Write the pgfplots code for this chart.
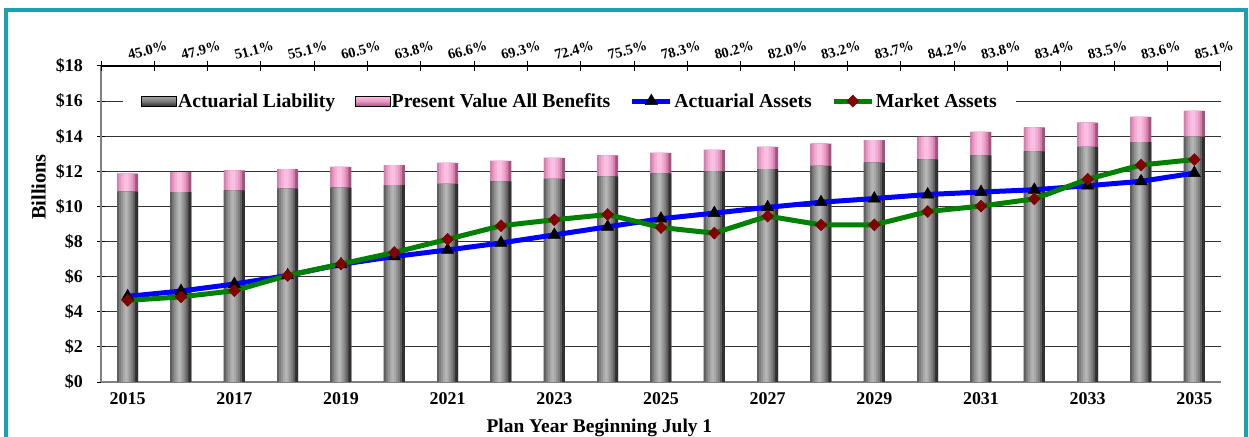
\documentclass[border=0pt]{standalone}
\usepackage{fontspec}
\setmainfont{Liberation Serif}
\usepackage{pgfplots}
\usepackage{pgfplotstable}
\pgfplotsset{compat=1.18}

\definecolor{frameteal}{RGB}{20,163,178}
\definecolor{gray1}{RGB}{48,48,48}
\definecolor{gray2}{RGB}{95,95,95}
\definecolor{gray3}{RGB}{125,125,125}
\definecolor{gray4}{RGB}{148,148,148}
\definecolor{gray5}{RGB}{166,166,166}
\definecolor{gray6}{RGB}{180,180,180}
\definecolor{pink1}{RGB}{165,85,125}
\definecolor{pink2}{RGB}{210,128,172}
\definecolor{pink3}{RGB}{232,152,196}
\definecolor{pink4}{RGB}{244,172,212}
\definecolor{pink5}{RGB}{250,192,226}
\definecolor{aablue}{RGB}{0,0,255}
\definecolor{magreen}{RGB}{0,128,0}
\definecolor{mared}{RGB}{128,0,0}

% one strip of a shaded bar: width, shift, colour
\pgfplotsset{strip/.style n args={3}{ybar, bar width=#1, bar shift=#2,
    draw=none, fill=#3, forget plot}}

% year index, liability, PV of all benefits, actuarial assets, market assets ($ billions)
\pgfplotstableread{
x  year al    pvab  aa    ma
0  2015 10.84 11.87 4.88  4.65
1  2016 10.81 11.96 5.18  4.85
2  2017 10.92 12.06 5.58  5.20
3  2018 11.02 12.13 6.07  6.07
4  2019 11.07 12.25 6.70  6.72
5  2020 11.21 12.36 7.15  7.38
6  2021 11.29 12.48 7.52  8.13
7  2022 11.43 12.60 7.92  8.90
8  2023 11.57 12.76 8.38  9.24
9  2024 11.71 12.91 8.84  9.54
10 2025 11.88 13.05 9.30  8.80
11 2026 12.00 13.22 9.62  8.48
12 2027 12.13 13.39 9.95  9.45
13 2028 12.31 13.58 10.24 8.95
14 2029 12.49 13.78 10.45 8.95
15 2030 12.68 13.96 10.68 9.71
16 2031 12.91 14.25 10.82 10.02
17 2032 13.13 14.50 10.95 10.43
18 2033 13.39 14.78 11.18 11.55
19 2034 13.67 15.10 11.43 12.36
20 2035 13.98 15.45 11.90 12.67
}\data

\begin{document}
\begin{tikzpicture}
\useasboundingbox (-101bp,-55bp) rectangle (1148bp,382bp);

\begin{axis}[
    scale only axis, width=1120bp, height=316bp,
    xmin=-0.5, xmax=20.5, ymin=0, ymax=18,
    axis x line*=bottom, axis y line*=left,
    axis line style={draw=black!50, line width=1.5bp},
    xtick={0,2,...,20},
    xticklabels={2015,2017,2019,2021,2023,2025,2027,2029,2031,2033,2035},
    x tick style={draw=none},
    ytick={0,2,...,18},
    yticklabels={\$0,\$2,\$4,\$6,\$8,\$10,\$12,\$14,\$16,\$18},
    y tick style={draw=black, line width=1bp},
    tick align=center, major tick length=8bp,
    ymajorgrids, grid style={black!80, line width=1.1bp},
    ticklabel style={font=\fontsize{18}{20}\selectfont\bfseries, inner sep=0pt},
    xticklabel style={yshift=-6bp},
    yticklabel style={xshift=-14bp},
    xlabel={Plan Year Beginning July 1},
    xlabel style={at={(ticklabel cs:0.445)}, anchor=north, yshift=-15bp,
        font=\fontsize{19.5}{21}\selectfont\bfseries, inner sep=0pt},
    ylabel={Billions},
    ylabel style={at={(ticklabel cs:0.617)}, anchor=south, yshift=10bp,
        font=\fontsize{20.5}{22}\selectfont\bfseries, inner sep=0pt},
    legend columns=4,
    legend cell align=left,
    legend style={at={(0.0196,0.889)}, anchor=west, draw=none, fill=white,
        inner xsep=18bp, inner ysep=2bp,
        font=\fontsize{19.8}{21}\selectfont\bfseries,
        nodes={inner sep=1.5bp},
        /tikz/every even column/.append style={column sep=18bp}},
    legend image code/.code={
        \draw[mark repeat=2, mark phase=2, #1]
            plot coordinates {(0bp,0bp) (19bp,0bp) (38bp,0bp)};},
]

% present value of all benefits (full bar, pink part shows above the liability)
\addplot[strip={21bp}{0bp}{pink1}]    table[x=x, y=pvab] {\data};
\addplot[strip={18bp}{-1.5bp}{pink2}] table[x=x, y=pvab] {\data};
\addplot[strip={14bp}{-1.5bp}{pink3}] table[x=x, y=pvab] {\data};
\addplot[strip={10bp}{-1.5bp}{pink4}] table[x=x, y=pvab] {\data};
\addplot[strip={5bp}{-1.5bp}{pink5}]  table[x=x, y=pvab] {\data};
% actuarial liability
\addplot[strip={21bp}{0bp}{gray1}]    table[x=x, y=al] {\data};
\addplot[strip={18bp}{-1.5bp}{gray2}] table[x=x, y=al] {\data};
\addplot[strip={14bp}{-1.5bp}{gray3}] table[x=x, y=al] {\data};
\addplot[strip={10bp}{-1.5bp}{gray4}] table[x=x, y=al] {\data};
\addplot[strip={6bp}{-1.5bp}{gray5}]  table[x=x, y=al] {\data};
\addplot[strip={3bp}{-1.5bp}{gray6}]  table[x=x, y=al] {\data};

\addlegendimage{legend image code/.code={
    \shade[top color=gray5, bottom color=gray1, middle color=gray3]
        (0bp,-5bp) rectangle (35bp,5bp);}}
\addlegendentry{Actuarial Liability}
\addlegendimage{legend image code/.code={
    \shade[top color=pink5, bottom color=pink1, middle color=pink3]
        (0bp,-5bp) rectangle (35bp,5bp);}}
\addlegendentry{Present Value All Benefits}

\addplot[aablue, line width=5bp, mark=triangle*, mark size=7bp,
    mark options={fill=black, draw=black, line width=0.5bp}]
    table[x=x, y=aa] {\data};
\addlegendentry{Actuarial Assets}
\addplot[magreen, line width=5bp, mark=diamond*, mark size=6bp,
    mark options={fill=mared, draw=mared, line width=0.5bp, xscale=1.3}]
    table[x=x, y=ma] {\data};
\addlegendentry{Market Assets}
\end{axis}

% top axis: funded ratio labels
\begin{axis}[
    scale only axis, width=1120bp, height=316bp,
    xmin=-0.5, xmax=20.5, ymin=0, ymax=18,
    axis x line*=top, axis y line=none,
    axis line style={black, line width=1.2bp},
    xtick={0,1,...,20},
    xticklabels={45.0\%,47.9\%,51.1\%,55.1\%,60.5\%,63.8\%,66.6\%,69.3\%,72.4\%,75.5\%,78.3\%,80.2\%,82.0\%,83.2\%,83.7\%,84.2\%,83.8\%,83.4\%,83.5\%,83.6\%,85.1\%},
    major tick length=0pt,
    minor xtick={-0.5,0.5,...,20.5},
    minor tick length=10bp, tick align=center,
    minor x tick style={black, line width=1bp},
    xticklabel style={rotate=15, anchor=south west, inner sep=0pt,
        xshift=3bp, yshift=5bp, font=\fontsize{14.5}{15}\selectfont\bfseries},
]
\end{axis}

\draw[frameteal, line width=4bp] (-95bp,-80bp) rectangle (1145bp,372bp);
\end{tikzpicture}
\end{document}
